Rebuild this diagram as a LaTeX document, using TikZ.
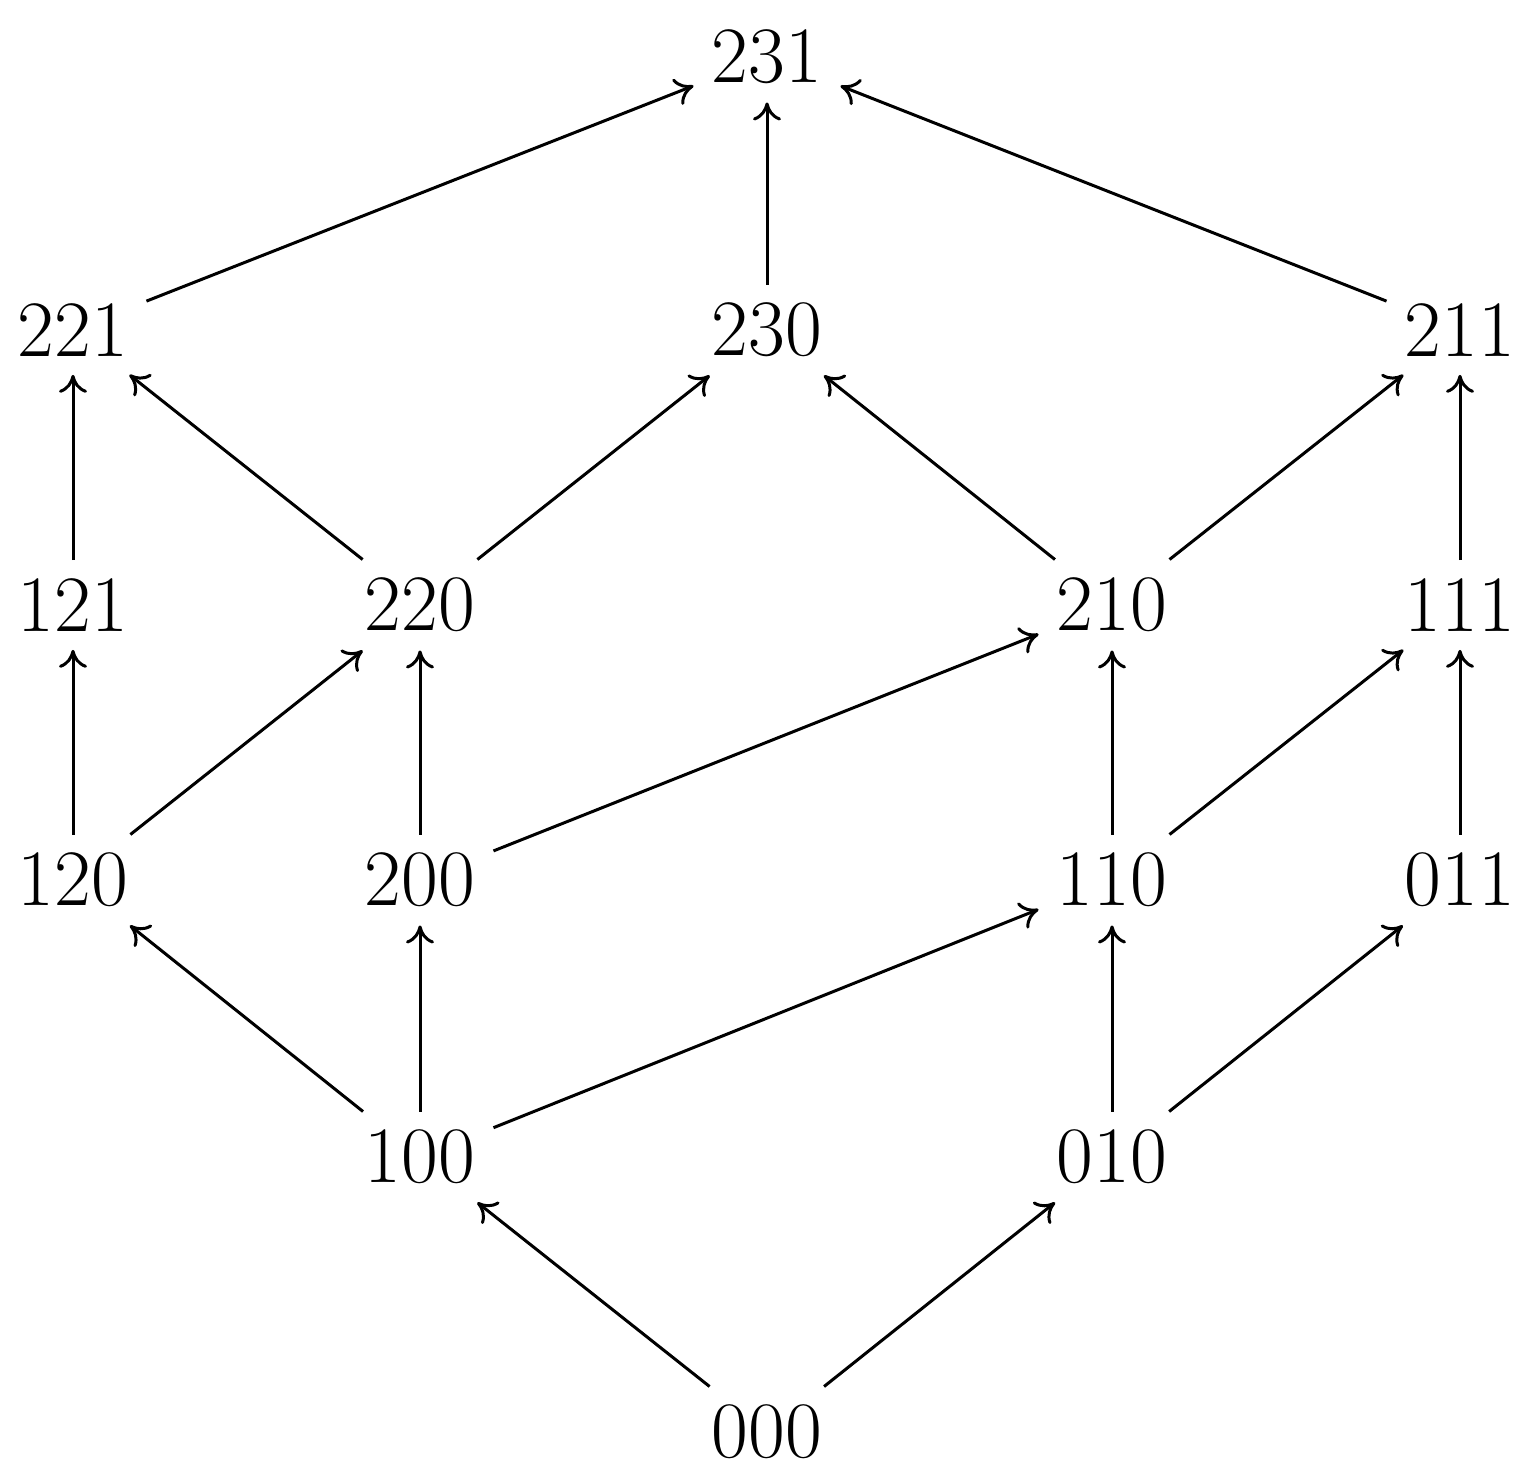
\documentclass[tikz,border=0pt]{standalone}
\usetikzlibrary{arrows.meta}
\begin{document}
\begin{tikzpicture}[x=0.5pt,y=-0.5pt,
  lbl/.style={font=\fontsize{40}{48}\selectfont, inner sep=9pt},
  arr/.style={-{To[length=9pt,width=14pt]}, line width=1.5pt}]
\useasboundingbox (0,0) rectangle (1538,1476);
\node[lbl] (n231) at (767,57) {231};
\node[lbl] (n221) at (73,330) {221};
\node[lbl] (n230) at (767,330) {230};
\node[lbl] (n211) at (1460,330) {211};
\node[lbl] (n121) at (73,605) {121};
\node[lbl] (n220) at (420,605) {220};
\node[lbl] (n210) at (1112,605) {210};
\node[lbl] (n111) at (1460,605) {111};
\node[lbl] (n120) at (73,880) {120};
\node[lbl] (n200) at (420,880) {200};
\node[lbl] (n110) at (1112,880) {110};
\node[lbl] (n011) at (1460,880) {011};
\node[lbl] (n100) at (420,1157) {100};
\node[lbl] (n010) at (1112,1157) {010};
\node[lbl] (n000) at (767,1432) {000};
\draw[arr] (n221) -- (n231);
\draw[arr] (n230) -- (n231);
\draw[arr] (n211) -- (n231);
\draw[arr] (n121) -- (n221);
\draw[arr] (n220) -- (n221);
\draw[arr] (n220) -- (n230);
\draw[arr] (n210) -- (n230);
\draw[arr] (n210) -- (n211);
\draw[arr] (n111) -- (n211);
\draw[arr] (n120) -- (n121);
\draw[arr] (n120) -- (n220);
\draw[arr] (n200) -- (n220);
\draw[arr] (n200) -- (n210);
\draw[arr] (n110) -- (n210);
\draw[arr] (n110) -- (n111);
\draw[arr] (n011) -- (n111);
\draw[arr] (n100) -- (n120);
\draw[arr] (n100) -- (n200);
\draw[arr] (n100) -- (n110);
\draw[arr] (n010) -- (n110);
\draw[arr] (n010) -- (n011);
\draw[arr] (n000) -- (n100);
\draw[arr] (n000) -- (n010);
\end{tikzpicture}
\end{document}
